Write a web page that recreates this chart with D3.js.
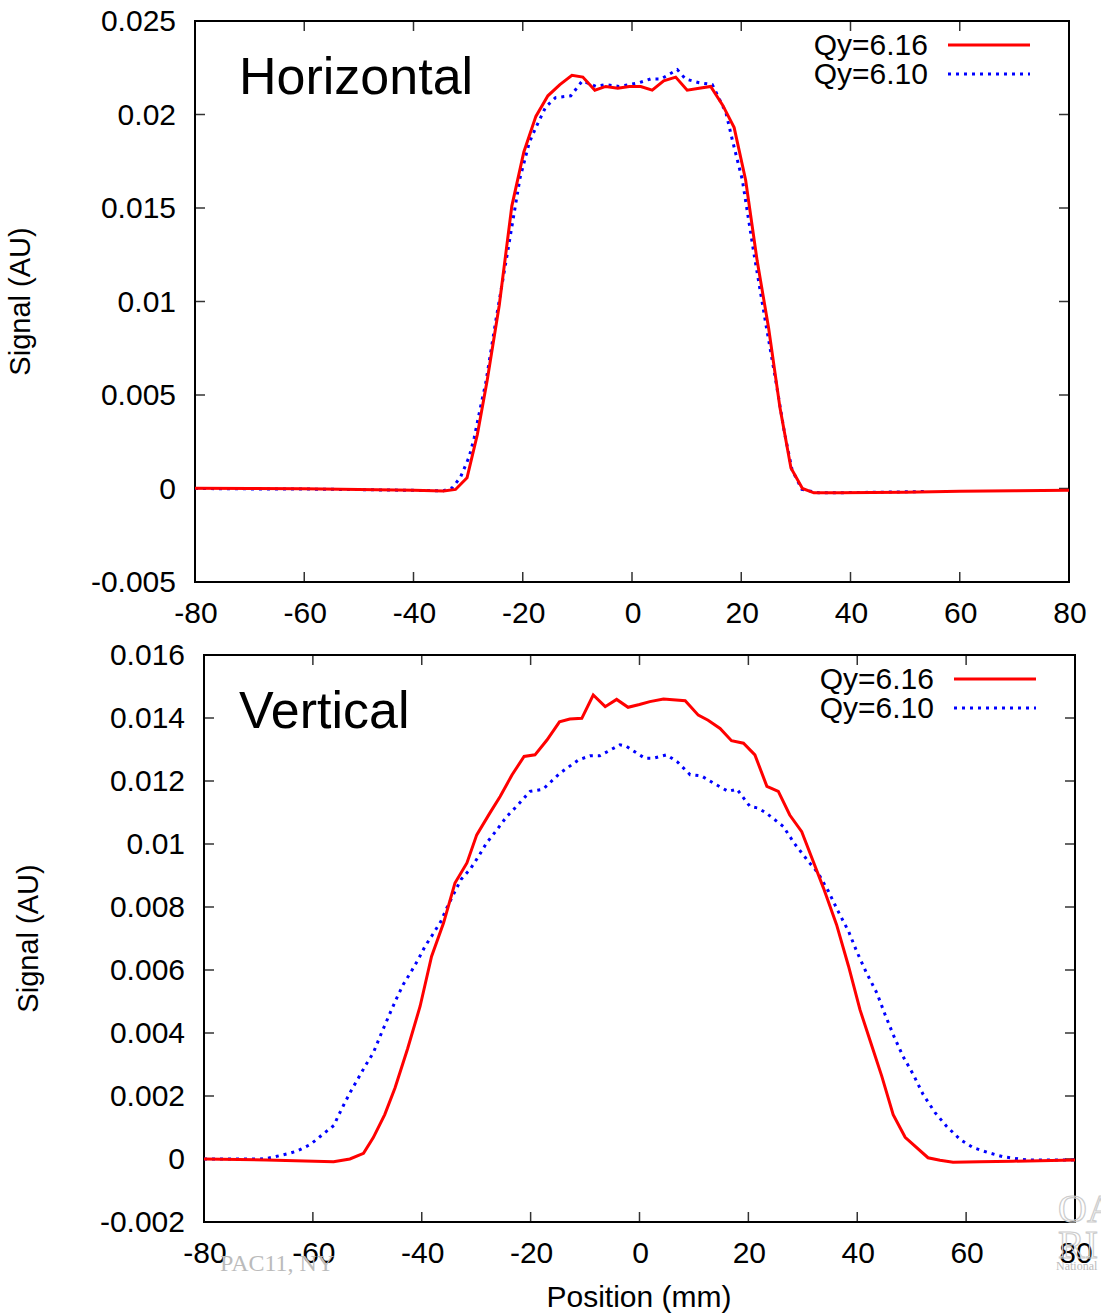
<!DOCTYPE html>
<html>
<head>
<meta charset="utf-8">
<script src="https://cdn.jsdelivr.net/npm/d3@7"></script>
<style>
  body { margin: 0; background: #fff; }
  svg { font-family: "Liberation Sans", Arial, Helvetica, sans-serif; }
</style>
</head>
<body>
<div id="chart"></div>
<script>
// Horizontal profile, [position mm, signal AU]
const horizQ616 = [
    [-80, 0.00002], [-70, 0.0], [-60, -0.00002], [-50, -0.00005], [-40, -0.0001],
    [-34.5, -0.00013], [-32.3, -0.00005], [-30.2, 0.00057], [-28.3, 0.0029], [-26.5, 0.0058],
    [-24.3, 0.0098], [-22.0, 0.0151], [-19.8, 0.0180], [-17.6, 0.0199], [-15.4, 0.0210],
    [-13.2, 0.0216], [-11.0, 0.0221], [-9.0, 0.0220], [-6.8, 0.0213], [-4.8, 0.0215],
    [-2.6, 0.0214], [-0.5, 0.0215], [1.6, 0.0215], [3.7, 0.0213], [5.8, 0.0218],
    [8.0, 0.0220], [10.1, 0.0213], [12.3, 0.0214], [14.4, 0.0215], [16.6, 0.0205],
    [18.7, 0.0193], [20.8, 0.0165], [22.9, 0.0122], [25.0, 0.0086], [27.1, 0.0043],
    [29.1, 0.0011], [31.2, 0.0000], [33.3, -0.00023], [37.9, -0.00023], [50, -0.0002],
    [60, -0.00015], [70, -0.00012], [80, -0.0001]
];
const horizQ610 = [
    [-80, 0.0], [-70, -0.00002], [-60, -0.00003], [-50, -0.00006], [-40, -0.0001],
    [-34.5, -0.00012], [-32.9, 0.00004], [-31.4, 0.0006], [-29.8, 0.0017], [-28.9, 0.0027],
    [-27.7, 0.0044], [-26.8, 0.0056], [-24.8, 0.0092], [-22.8, 0.0126], [-20.5, 0.0166],
    [-18.8, 0.0185], [-17.6, 0.0193], [-15.8, 0.0204], [-14.0, 0.0209], [-11.2, 0.0210],
    [-9.1, 0.0218], [-6.6, 0.0215], [-4.8, 0.0216], [-2.4, 0.0215], [-0.5, 0.0216],
    [1.3, 0.0217], [3.4, 0.0219], [5.3, 0.0219], [8.3, 0.0224], [9.8, 0.0219],
    [12.3, 0.0217], [14.7, 0.0216], [17.2, 0.0201], [18.4, 0.0186], [20.2, 0.0165],
    [22.3, 0.0126], [24.5, 0.0088], [26.3, 0.0058], [27.9, 0.0030], [29.3, 0.0010],
    [31.1, -0.00005], [34.2, -0.00023], [40, -0.00022], [54, -0.00016]
];

// Vertical profile
const vertQ616 = [
    [-80, 0.0], [-68.5, -0.00003], [-56.2, -0.00009], [-53.2, 0.0], [-50.7, 0.00018],
    [-48.9, 0.00068], [-46.8, 0.00141], [-44.9, 0.00226], [-42.6, 0.0035], [-40.3, 0.00485],
    [-38.2, 0.00643], [-36.0, 0.00749], [-33.9, 0.00876], [-31.7, 0.0094], [-29.9, 0.01029],
    [-27.5, 0.01098], [-25.6, 0.01151], [-23.4, 0.0122], [-21.2, 0.01278], [-19.2, 0.01283],
    [-17.0, 0.0133], [-14.7, 0.01388], [-12.8, 0.01397], [-10.6, 0.01399], [-8.5, 0.01473],
    [-6.3, 0.01436], [-4.2, 0.01459], [-2.1, 0.01434], [0.0, 0.01443], [1.9, 0.01452],
    [4.4, 0.0146], [8.4, 0.01455], [10.8, 0.01409], [12.6, 0.01393], [14.8, 0.01367],
    [16.9, 0.01328], [19.1, 0.0132], [21.2, 0.01283], [23.4, 0.01183], [25.5, 0.01167],
    [27.6, 0.01092], [29.8, 0.01039], [31.9, 0.00945], [33.8, 0.0086], [36.2, 0.00744],
    [38.4, 0.00612], [40.5, 0.00474], [42.7, 0.00358], [44.5, 0.00263], [46.6, 0.00141],
    [48.8, 0.00069], [53.0, 0.00004], [55.2, -0.00004], [57.6, -0.0001], [62.5, -0.00009],
    [68.6, -0.00007], [80, -0.00003]
];
const vertQ610 = [
    [-80, 0.0], [-69.7, 0.0], [-68.5, 0.00002], [-67.0, 0.00007], [-64.3, 0.00018],
    [-63.0, 0.00025], [-61.6, 0.00036], [-60.5, 0.00046], [-59.3, 0.00062], [-58.2, 0.00078],
    [-57.2, 0.00092], [-56.1, 0.00107], [-55.5, 0.00131], [-54.3, 0.00173], [-53.1, 0.00213],
    [-52.4, 0.00234], [-50.4, 0.00295], [-48.9, 0.00337], [-47.4, 0.004], [-45.8, 0.00464],
    [-44.6, 0.00511], [-43.4, 0.00554], [-42.0, 0.00593], [-40.6, 0.00635], [-39.4, 0.00675],
    [-37.9, 0.00715], [-36.5, 0.00754], [-35.4, 0.00797], [-34.2, 0.00839], [-32.8, 0.00887],
    [-31.1, 0.0092], [-29.6, 0.0096], [-28.1, 0.01003], [-26.2, 0.01045], [-24.4, 0.01087],
    [-22.6, 0.01119], [-20.1, 0.01167], [-17.7, 0.01174], [-14.6, 0.01225], [-11.2, 0.01267],
    [-9.1, 0.0128], [-7.3, 0.0128], [-3.6, 0.01315], [-2.4, 0.0131], [1.0, 0.01272],
    [2.5, 0.01272], [5.0, 0.01283], [7.0, 0.0126], [9.3, 0.0122], [11.4, 0.01216],
    [13.6, 0.01193], [16.3, 0.01167], [17.9, 0.01174], [20.3, 0.01119], [21.8, 0.01114],
    [23.3, 0.01098], [26.4, 0.01056], [28.4, 0.01003], [31.0, 0.00945], [32.8, 0.00908],
    [34.7, 0.0085], [36.5, 0.00786], [38.4, 0.00723], [39.9, 0.00659], [41.7, 0.00591],
    [43.6, 0.00527], [45.1, 0.00459], [46.6, 0.00395], [48.4, 0.00326], [50.3, 0.00268],
    [52.1, 0.00205], [54.3, 0.00147], [56.4, 0.00104], [58.9, 0.00062], [61.3, 0.00036],
    [64.1, 0.0002], [66.8, 0.00007], [71.1, -0.00003], [80, -0.00003]
];

const xTicks = [-80, -60, -40, -20, 0, 20, 40, 60, 80];
const horizYTicks = ["-0.005", "0", "0.005", "0.01", "0.015", "0.02", "0.025"];
const vertYTicks = ["-0.002", "0", "0.002", "0.004", "0.006", "0.008", "0.01", "0.012", "0.014", "0.016"];
const seriesNames = ["Qy=6.16", "Qy=6.10"];

let svg = d3.select("#chart")
    .append("svg")
        .attr("width", 1101)
        .attr("height", 1313);

function panel(box, yDomain, yTicks, title, red, blue) {
    let x = d3.scaleLinear().domain([-80, 80]).range([box.left, box.right]);
    let y = d3.scaleLinear().domain(yDomain).range([box.bottom, box.top]);
    let g = svg.append("g");

    // inward ticks on all four sides, gnuplot style
    let tk = 10;
    let inner = xTicks.slice(1, -1);
    let innerY = yTicks.slice(1, -1);
    [[box.bottom, -tk], [box.top, tk]].forEach(([y0, dy]) => {
        g.append("g").selectAll("line")
            .data(inner)
            .join("line")
                .attr("x1", d => x(d)).attr("x2", d => x(d))
                .attr("y1", y0).attr("y2", y0 + dy)
                .attr("stroke", "#333").attr("stroke-width", 1.5);
    });
    [[box.left, tk], [box.right, -tk]].forEach(([x0, dx]) => {
        g.append("g").selectAll("line")
            .data(innerY)
            .join("line")
                .attr("x1", x0).attr("x2", x0 + dx)
                .attr("y1", d => y(+d)).attr("y2", d => y(+d))
                .attr("stroke", "#333").attr("stroke-width", 1.5);
    });

    g.append("rect")
        .attr("x", box.left).attr("y", box.top)
        .attr("width", box.right - box.left).attr("height", box.bottom - box.top)
        .attr("fill", "none").attr("stroke", "#000").attr("stroke-width", 2);

    g.append("g").selectAll("text")
        .data(xTicks)
        .join("text")
            .attr("x", d => x(d) + 1)
            .attr("y", box.bottom + 41)
            .attr("text-anchor", "middle")
            .attr("font-size", 30)
            .text(d => d);
    g.append("g").selectAll("text")
        .data(yTicks)
        .join("text")
            .attr("x", box.left - 19)
            .attr("y", d => y(+d) + 10)
            .attr("text-anchor", "end")
            .attr("font-size", 30)
            .text(d => d);

    g.append("text")
        .attr("x", 239).attr("y", box.top + 73)
        .attr("font-size", 52)
        .text(title);

    g.append("text")
        .attr("transform", `translate(${box.titleX},${(box.top + box.bottom) / 2}) rotate(-90)`)
        .attr("text-anchor", "middle")
        .attr("font-size", 29)
        .text("Signal (AU)");

    let line = d3.line()
        .x(d => x(d[0]))
        .y(d => y(d[1]));

    g.append("path")
        .datum(blue)
        .attr("fill", "none")
        .attr("stroke", "#0000ff")
        .attr("stroke-width", 3)
        .attr("stroke-dasharray", "3,5")
        .attr("d", line);
    g.append("path")
        .datum(red)
        .attr("fill", "none")
        .attr("stroke", "#ff0000")
        .attr("stroke-width", 3)
        .attr("d", line);

    // legend
    let styles = [
        {stroke: "#ff0000", dash: null},
        {stroke: "#0000ff", dash: "3,5"}
    ];
    seriesNames.forEach((name, i) => {
        let ly = box.top + 24 + i * 29;
        g.append("text")
            .attr("x", box.right - 141).attr("y", ly + 10)
            .attr("text-anchor", "end")
            .attr("font-size", 30)
            .text(name);
        g.append("line")
            .attr("x1", box.right - 121).attr("x2", box.right - 39)
            .attr("y1", ly).attr("y2", ly)
            .attr("stroke", styles[i].stroke)
            .attr("stroke-width", 3)
            .attr("stroke-dasharray", styles[i].dash);
    });
}

panel({left: 195, right: 1069, top: 21, bottom: 582, titleX: 30},
    [-0.005, 0.025], horizYTicks, "Horizontal", horizQ616, horizQ610);
panel({left: 204, right: 1075, top: 655, bottom: 1222, titleX: 38},
    [-0.002, 0.016], vertYTicks, "Vertical", vertQ616, vertQ610);

svg.append("text")
    .attr("x", 639).attr("y", 1307)
    .attr("text-anchor", "middle")
    .attr("font-size", 30)
    .text("Position (mm)");

// slide watermarks
svg.append("text")
    .attr("x", 220).attr("y", 1271)
    .attr("font-family", "Liberation Serif, serif")
    .attr("font-size", 24)
    .attr("fill", "#bbb")
    .text("PAC11, NY");
let wm = svg.append("g")
    .attr("font-family", "Liberation Serif, serif")
    .attr("fill", "none")
    .attr("stroke", "#ccc")
    .attr("stroke-width", 1.2);
wm.append("text").attr("x", 1058).attr("y", 1222).attr("font-size", 40).text("OA");
wm.append("text").attr("x", 1058).attr("y", 1258).attr("font-size", 40).text("RI");
svg.append("text")
    .attr("x", 1056).attr("y", 1270)
    .attr("font-family", "Liberation Serif, serif")
    .attr("font-size", 12)
    .attr("fill", "#bbb")
    .text("National");
</script>
</body>
</html>
